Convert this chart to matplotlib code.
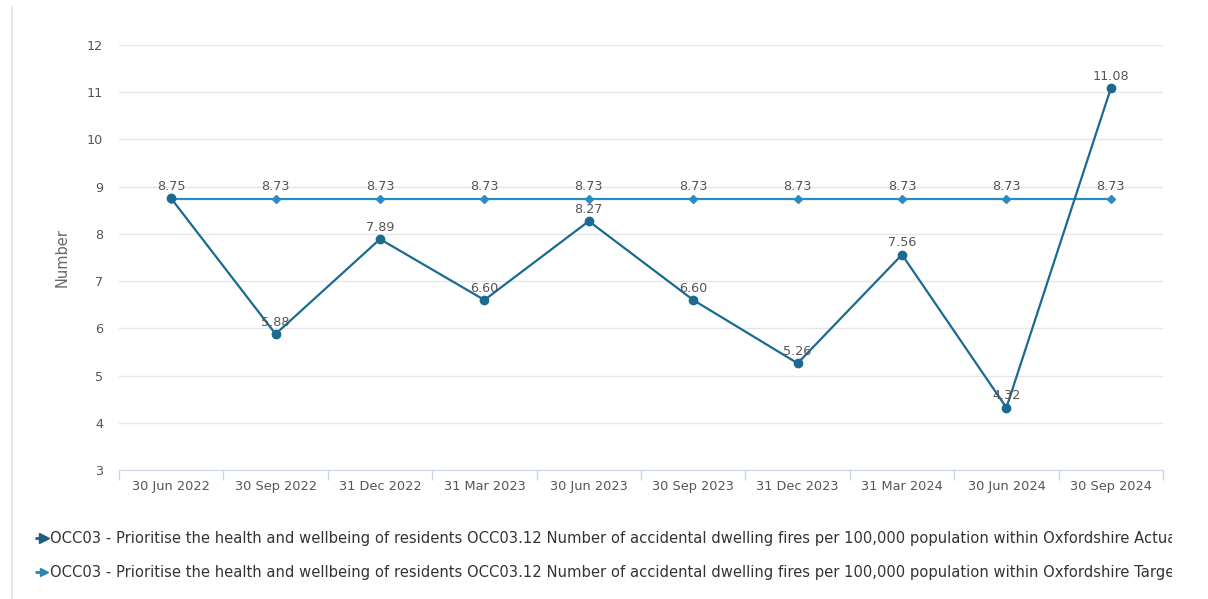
import matplotlib
matplotlib.use("Agg")
import matplotlib.pyplot as plt

# ---- data ----
quarters = ["30 Jun 2022", "30 Sep 2022", "31 Dec 2022", "31 Mar 2023", "30 Jun 2023",
            "30 Sep 2023", "31 Dec 2023", "31 Mar 2024", "30 Jun 2024", "30 Sep 2024"]
actual = [8.75, 5.88, 7.89, 6.60, 8.27, 6.60, 5.26, 7.56, 4.32, 11.08]
target = [8.73, 8.73, 8.73, 8.73, 8.73, 8.73, 8.73, 8.73, 8.73, 8.73]
y_ticks = [3, 4, 5, 6, 7, 8, 9, 10, 11, 12]

series_base = ("OCC03 - Prioritise the health and wellbeing of residents OCC03.12 Number of "
               "accidental dwelling fires per 100,000 population within Oxfordshire ")
legend_names = [series_base + "Actual", series_base + "Target"]

c_actual = "#1b6a90"
c_target = "#2c8cc2"
txt = "#555555"

plt.rcParams["font.family"] = "DejaVu Sans"

fig = plt.figure(figsize=(12.08, 5.99), dpi=100)
W, H = 1208, 599
ax = fig.add_axes([119 / W, 1 - 470 / H, (1163 - 119) / W, (470 - 45) / H])

x = list(range(len(quarters)))

# ---- lines ----
ax.plot(x, target, color=c_target, lw=1.6, marker="D", markersize=4.5, zorder=3)
ax.plot(x, actual, color=c_actual, lw=1.6, marker="o", markersize=6, zorder=4)

# ---- data labels ----
for i, v in enumerate(actual):
    ax.annotate(f"{v:.2f}", (i, v), xytext=(0, 8.5), textcoords="offset points",
                ha="center", va="center", fontsize=9.2, color=txt, zorder=5)
for i, v in enumerate(target):
    if abs(actual[i] - v) < 0.1:
        continue
    ax.annotate(f"{v:.2f}", (i, v), xytext=(0, 9), textcoords="offset points",
                ha="center", va="center", fontsize=9.2, color=txt, zorder=5)

# ---- axes styling ----
ax.set_xlim(-0.5, len(quarters) - 0.5)
ax.set_ylim(3, 12)
ax.set_yticks(y_ticks)
ax.tick_params(axis="y", length=0, pad=11.5, labelsize=9.2, labelcolor=txt)
ax.grid(axis="y", color="#e6e6e6", lw=1)
ax.set_axisbelow(True)

# category boundaries as major ticks, labels centred on minor ticks
ax.set_xticks([i - 0.5 for i in range(len(quarters) + 1)])
ax.set_xticklabels([])
ax.tick_params(axis="x", which="major", length=7.5, width=1, color="#ccd6eb")
ax.set_xticks(x, minor=True)
ax.set_xticklabels(quarters, minor=True)
ax.tick_params(axis="x", which="minor", length=0, pad=7.5, labelsize=9.3, labelcolor=txt)

for s in ["top", "right", "left"]:
    ax.spines[s].set_visible(False)
ax.spines["bottom"].set_color("#ccd6eb")

ax.set_ylabel("Number", fontsize=10.5, color="#666666")
ax.yaxis.set_label_coords((70 - 119) / (1163 - 119), 0.5)

# ---- left frame line ----
fig.add_artist(plt.Line2D([12 / W, 12 / W], [0, 1 - 7 / H], color="#e3e3e3", lw=1.2,
                          transform=fig.transFigure))

# ---- legend (clipped at right edge) ----
leg = fig.add_axes([0, 0, 1172 / W, 119 / H])
leg.set_xlim(0, 1172)
leg.set_ylim(599, 480)
leg.axis("off")
leg_y = [538, 572]
leg_c = ["#1d5f7e", "#2a85b5"]
leg_ms = [6.5, 5.5]
for yy, name, cc, ms in zip(leg_y, legend_names, leg_c, leg_ms):
    leg.plot([35, 46], [yy, yy], color=cc, lw=2, solid_capstyle="butt")
    leg.plot([44], [yy], marker=">", color=cc, markersize=ms, lw=0)
    leg.text(50, yy, name, fontsize=10.6, color="#333333", va="center", ha="left",
             clip_on=True)

fig.savefig("out.png", dpi=100)
